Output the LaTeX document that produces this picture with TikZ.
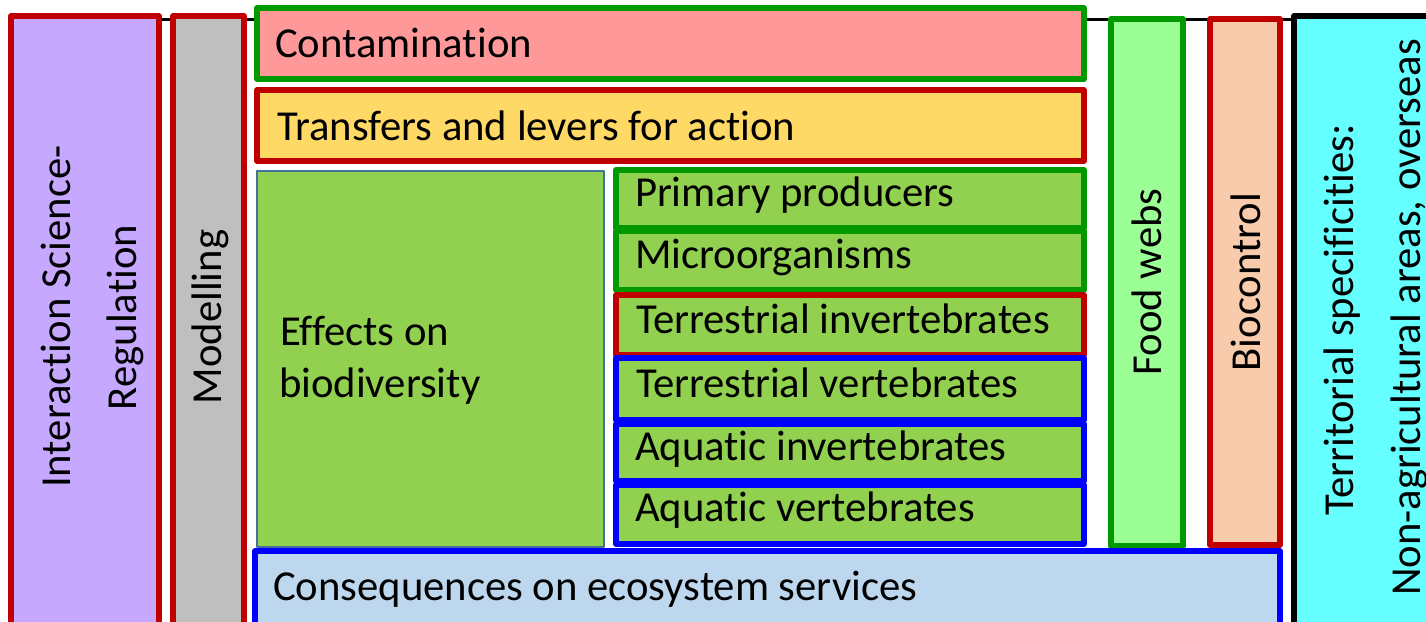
\documentclass[tikz,border=0pt]{standalone}
\usepackage{fontspec}
\setmainfont{Carlito}[Ligatures={NoCommon,NoRequired,NoContextual}]
\newcommand\ti{t\kern0pt i}
\definecolor{bred}{HTML}{C00000}
\definecolor{bgreen}{HTML}{009A00}
\definecolor{bblue}{HTML}{0000FF}
\definecolor{bgrey}{HTML}{41719C}
\definecolor{fpurple}{HTML}{C6A8FF}
\definecolor{fgray}{HTML}{BFBFBF}
\definecolor{fpink}{HTML}{FF9999}
\definecolor{fyellow}{HTML}{FFD966}
\definecolor{fgreen}{HTML}{92D050}
\definecolor{flgreen}{HTML}{9CFF96}
\definecolor{fpeach}{HTML}{F8CBAD}
\definecolor{fcyan}{HTML}{66FFFF}
\definecolor{fblue}{HTML}{BDD7EE}
\newcommand\mkbx[6]{\node[#2, minimum width={(#5-#3)*1pt}, minimum height={(#6-#4)*1pt}] (#1) at ({(#3+#5)/2},{(#4+#6)/2}) {};}
\begin{document}
\begin{tikzpicture}[x=1pt,y=-1pt, line join=round,
  box/.style={rectangle, draw, inner sep=0pt, outer sep=0pt, line width=5.5pt},
  thinbox/.style={rectangle, draw, inner sep=0pt, outer sep=0pt, line width=1.6pt},
  lbl/.style={inner sep=0pt, outer sep=0pt, font=\fontsize{42.7}{50}\selectfont, anchor=base west},
  vlbl/.style={inner sep=0pt, outer sep=0pt, font=\fontsize{42.7}{50}\selectfont, rotate=90, anchor=base}]
\useasboundingbox (0,0) rectangle (1426,621);
\clip (0,0) rectangle (1426,621);
\fill[white] (0,0) rectangle (1426,621);
% top line behind the boxes
\coordinate (lineL) at (159,19.5);
\coordinate (lineR) at (1294,19.5);
\draw[line width=2.3pt] (lineL) -- (lineR);
% left columns
\mkbx{inter}{box, draw=bred, fill=fpurple}{11}{16}{159}{645}
\mkbx{model}{box, draw=bred, fill=fgray}{173}{16}{244}{645}
% top rows
\mkbx{contam}{box, draw=bgreen, fill=fpink}{257}{8}{1084}{79}
\mkbx{transf}{box, draw=bred, fill=fyellow}{257}{90}{1084}{161}
% effects
\mkbx{effects}{thinbox, draw=bgrey, fill=fgreen}{257}{171}{604}{547}
% groups
\mkbx{prim}{box, draw=bgreen, fill=fgreen}{616}{170}{1084}{228}
\mkbx{micro}{box, draw=bgreen, fill=fgreen}{616}{231}{1084}{290}
\mkbx{tinv}{box, draw=bred, fill=fgreen}{616}{295}{1084}{355}
\mkbx{tver}{box, draw=bblue, fill=fgreen}{616}{358}{1084}{420}
\mkbx{ainv}{box, draw=bblue, fill=fgreen}{616}{424}{1084}{481}
\mkbx{aver}{box, draw=bblue, fill=fgreen}{616}{485}{1084}{544}
% right columns
\mkbx{food}{box, draw=bgreen, fill=flgreen}{1111}{19}{1183}{546}
\mkbx{bioc}{box, draw=bred, fill=fpeach}{1210}{19}{1280}{545}
\mkbx{terr}{box, draw=black, fill=fcyan}{1294}{16}{1465}{625}
% bottom row
\mkbx{conseq}{box, draw=bblue, fill=fblue}{255}{551}{1280}{645}
% labels
\node[vlbl] (tInter1) at (70.7,316.5) {Interac\ti on Science-};
\node[vlbl] (tInter2) at (136.7,317.5) {Regulation};
\node[vlbl] (tModel) at (221.7,317) {Modelling};
\node[lbl] (tContam) at (275,57) {Contamina\ti on};
\node[lbl] (tTransf) at (277,140) {Transfers and levers for ac\ti on};
\node[lbl] (tEff1) at (280,345) {Effects on};
\node[lbl] (tEff2) at (279,397.5) {biodiversity};
\node[lbl] (tPrim) at (635,206) {Primary producers};
\node[lbl] (tMicro) at (635,268.5) {Microorganisms};
\node[lbl] (tTinv) at (636,333.5) {Terrestrial invertebrates};
\node[lbl] (tTver) at (636,397.5) {Terrestrial vertebrates};
\node[lbl] (tAinv) at (635,460) {Aqua\ti c invertebrates};
\node[lbl] (tAver) at (635,521.5) {Aqua\ti c vertebrates};
\node[lbl] (tConseq) at (273,600) {Consequences on ecosystem services};
\node[vlbl] (tFood) at (1161.7,282) {Food webs};
\node[vlbl] (tBioc) at (1260,282) {Biocontrol};
\node[vlbl] (tTerr1) at (1353,320) {Territorial specifici\ti es:};
\node[vlbl] (tTerr2) at (1420,317.5) {Non-agricultural areas, overseas};
\end{tikzpicture}
\end{document}
